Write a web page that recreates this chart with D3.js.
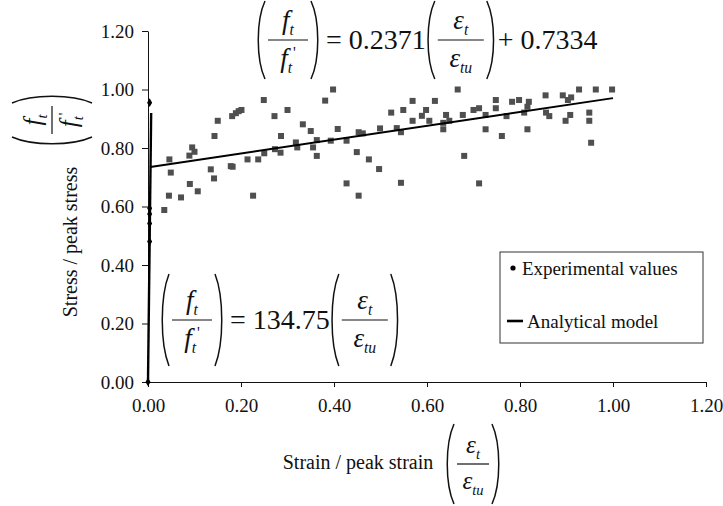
<!DOCTYPE html>
<html>
<head>
<meta charset="utf-8">
<script src="https://cdn.jsdelivr.net/npm/d3@7"></script>
<style>
body { margin:0; background:#fff; }
</style>
</head>
<body>
<div id="chart"></div>
<script>
// chart data
var xTicks = [0, 0.2, 0.4, 0.6, 0.8, 1.0, 1.2];
var yTicks = [0, 0.2, 0.4, 0.6, 0.8, 1.0, 1.2];

// experimental values, pre-peak (black diamonds on the axis)
var preStrain = [0, 0.0035, 0.0035, 0.0035, 0.0035, 0.0035];
var preStress = [0, 0.480, 0.542, 0.574, 0.594, 0.955];

// experimental values, post-peak (grey squares)
var postStrain = [0.035, 0.046, 0.049, 0.045, 0.071, 0.090, 0.089, 0.095, 0.100, 0.107,
	0.135, 0.142, 0.143, 0.150, 0.178, 0.182, 0.181, 0.189, 0.195, 0.201,
	0.214, 0.226, 0.237, 0.249, 0.250, 0.272, 0.273, 0.285, 0.286, 0.300,
	0.318, 0.321, 0.333, 0.350, 0.355, 0.363, 0.363, 0.381, 0.393, 0.398,
	0.408, 0.427, 0.427, 0.449, 0.453, 0.453, 0.462, 0.475, 0.497, 0.499,
	0.523, 0.535, 0.544, 0.544, 0.549, 0.569, 0.569, 0.589, 0.598, 0.605,
	0.617, 0.635, 0.635, 0.641, 0.648, 0.666, 0.677, 0.680, 0.700, 0.712,
	0.712, 0.726, 0.726, 0.748, 0.748, 0.761, 0.771, 0.783, 0.798, 0.809,
	0.816, 0.819, 0.816, 0.855, 0.856, 0.863, 0.892, 0.898, 0.903, 0.908,
	0.910, 0.927, 0.949, 0.949, 0.953, 0.963, 0.998];
var postStress = [0.588, 0.761, 0.716, 0.637, 0.631, 0.677, 0.774, 0.802, 0.787, 0.652,
	0.727, 0.696, 0.841, 0.893, 0.738, 0.736, 0.909, 0.919, 0.926, 0.930,
	0.761, 0.637, 0.761, 0.964, 0.782, 0.909, 0.796, 0.784, 0.841, 0.930,
	0.819, 0.802, 0.881, 0.858, 0.802, 0.827, 0.773, 0.962, 0.825, 1.000,
	0.865, 0.679, 0.825, 0.786, 0.637, 0.854, 0.850, 0.761, 0.728, 0.867,
	0.921, 0.868, 0.681, 0.854, 0.930, 0.961, 0.893, 0.910, 0.930, 0.893,
	0.961, 0.864, 0.886, 0.913, 0.893, 1.000, 0.913, 0.773, 0.930, 0.936,
	0.679, 0.913, 0.864, 0.964, 0.936, 0.841, 0.909, 0.958, 0.964, 0.921,
	0.864, 0.958, 0.941, 0.980, 0.921, 0.909, 0.980, 0.893, 0.964, 0.913,
	0.973, 1.000, 0.921, 0.893, 0.818, 1.000, 1.000];

// analytical model
var modelPreStrain = [0, 0.0068];
var modelPreStress = [0, 0.92];
var modelPostStrain = [0.005, 1.0];
var modelPostStress = [0.735, 0.9705];

var W = 723, H = 506;
var plot = {left:148, right:706, top:31, bottom:382};

// pick the first serif face that is really installed (width test against monospace)
function pickSerif(){
	var c = document.createElement("canvas").getContext("2d");
	var probe = "Experimental values 0.2371";
	c.font = "40px monospace";
	var base = c.measureText(probe).width;
	var list = ["Liberation Serif", "Times New Roman", "Tinos", "Nimbus Roman", "DejaVu Serif", "Noto Serif", "FreeSerif", "Times"];
	for (var i = 0; i < list.length; i++) {
		c.font = "40px '" + list[i] + "', monospace";
		if (Math.abs(c.measureText(probe).width - base) > 0.5) return "'" + list[i] + "', serif";
	}
	return "serif";
}
var serif = pickSerif();

var svg = d3.select("#chart").append("svg")
	.attr("width", W)
	.attr("height", H)
	.style("font-family", serif);

var x = d3.scaleLinear().domain([0, 1.2]).range([plot.left, plot.right]);
var y = d3.scaleLinear().domain([0, 1.2]).range([plot.bottom, plot.top]);

// axes
svg.append("g")
	.attr("transform", "translate(0," + plot.bottom + ")")
	.call(d3.axisBottom(x).tickValues(xTicks).tickFormat(d3.format(".2f")).tickSize(5).tickSizeOuter(0).tickPadding(12));
svg.append("g")
	.attr("transform", "translate(" + plot.left + ",0)")
	.call(d3.axisLeft(y).tickValues(yTicks).tickFormat(d3.format(".2f")).tickSize(6).tickSizeOuter(0).tickPadding(8));
svg.selectAll("g").attr("font-family", null).attr("font-size", null);
svg.selectAll(".tick text")
	.style("font-family", serif)
	.style("font-size", "19px")
	.attr("fill", "#111");
svg.selectAll(".domain, .tick line").attr("stroke", "#111");

// grey squares
var sq = 6;
svg.append("g").selectAll("rect")
	.data(d3.range(postStrain.length))
	.enter().append("rect")
	.attr("x", function(i){ return x(postStrain[i]) - sq/2; })
	.attr("y", function(i){ return y(postStress[i]) - sq/2; })
	.attr("width", sq)
	.attr("height", sq)
	.attr("fill", "#4f4f4f");

// model lines
var line = d3.line().x(function(d){ return x(d[0]); }).y(function(d){ return y(d[1]); });
svg.append("path")
	.attr("d", line(d3.zip(modelPreStrain, modelPreStress)))
	.attr("stroke", "#000").attr("stroke-width", 2.4).attr("fill", "none");
svg.append("path")
	.attr("d", line(d3.zip(modelPostStrain, modelPostStress)))
	.attr("stroke", "#000").attr("stroke-width", 2).attr("fill", "none");

// black diamonds
svg.append("g").selectAll("path")
	.data(d3.range(preStrain.length))
	.enter().append("path")
	.attr("d", d3.symbol().type(d3.symbolDiamond).size(22))
	.attr("transform", function(i){ return "translate(" + x(preStrain[i]) + "," + y(preStress[i]) + ")"; })
	.attr("fill", "#000");

// --- math helpers ---
function paren(g, px, cy, h, left){
	var d = left ? 1 : -1;
	var p = d3.path();
	p.moveTo(px + d*7, cy - h/2);
	p.bezierCurveTo(px - d*2, cy - h/4, px - d*2, cy + h/4, px + d*7, cy + h/2);
	g.append("path").attr("d", p.toString())
		.attr("stroke", "#111").attr("stroke-width", 1.5).attr("fill", "none");
}

// sym: "f" or "ε"; sub: subscript; prime: add superscript prime
function term(g, cx, base, sym, sub, prime, fs){
	var t = g.append("text").attr("x", cx).attr("y", base)
		.attr("text-anchor", "middle")
		.style("font-family", serif)
		.style("font-style", "italic").style("font-size", fs + "px").attr("fill", "#111");
	t.append("tspan").text(sym);
	t.append("tspan").attr("dy", fs*0.22).style("font-size", (fs*0.58) + "px").text(sub);
	if (prime) t.append("tspan").attr("dx", 1).attr("dy", -fs*0.55)
		.style("font-size", (fs*0.58) + "px").style("font-style", "normal").text("'");
}

// parenthesised fraction, left paren at px, centred on cy; returns right edge
function frac(g, px, cy, h, w, num, den, fs){
	paren(g, px, cy, h, true);
	var bx = px + 10;
	g.append("line").attr("x1", bx).attr("x2", bx + w).attr("y1", cy).attr("y2", cy)
		.attr("stroke", "#111").attr("stroke-width", 1.2);
	term(g, bx + w/2, cy - 11, num[0], num[1], num[2], fs);
	term(g, bx + w/2, cy + fs*1.0, den[0], den[1], den[2], fs);
	paren(g, bx + w + 10, cy, h, false);
	return bx + w + 10;
}

function plain(g, tx, base, str, fs){
	var t = g.append("text").attr("x", tx).attr("y", base)
		.style("font-family", serif)
		.style("font-size", fs + "px").attr("fill", "#111").text(str);
	return tx + t.node().getComputedTextLength();
}

var fT = ["f", "t", false], fTp = ["f", "t", true];
var eT = ["\u03b5", "t", false], eTU = ["\u03b5", "tu", false];

// top equation
var eq1 = svg.append("g");
var e1 = frac(eq1, 258, 40, 78, 40, fT, fTp, 27);
var e2 = plain(eq1, e1 + 8, 49, "= 0.2371", 28);
var e3 = frac(eq1, e2 + 2, 40, 78, 46, eT, eTU, 27);
plain(eq1, e3 + 4, 49, "+ 0.7334", 28);

// lower equation
var eq2 = svg.append("g");
var e4 = frac(eq2, 162, 320, 92, 40, fT, fTp, 27);
var e5 = plain(eq2, e4 + 8, 329, "= 134.75", 28);
frac(eq2, e5 + 2, 320, 92, 46, eT, eTU, 27);

// axis titles
svg.append("text").attr("x", 358).attr("y", 469).attr("text-anchor", "middle")
	.style("font-family", serif)
	.style("font-size", "20px").attr("fill", "#111").text("Strain / peak strain");
frac(svg.append("g"), 447, 464, 80, 32, eT, eTU, 25);

svg.append("text").attr("transform", "translate(77,242) rotate(-90)").attr("text-anchor", "middle")
	.style("font-family", serif)
	.style("font-size", "20px").attr("fill", "#111").text("Stress / peak stress");
var yf = svg.append("g").attr("transform", "translate(52,115) rotate(-90)");
frac(yf, -29, 0, 80, 28, fT, fTp, 25);

// legend
var lg = svg.append("g");
lg.append("rect").attr("x", 500).attr("y", 252).attr("width", 203).attr("height", 91)
	.attr("fill", "#fff").attr("stroke", "#333").attr("stroke-width", 1);
lg.append("circle").attr("cx", 513).attr("cy", 268).attr("r", 2.6).attr("fill", "#000");
plain(lg, 522, 275, "Experimental values", 19);
lg.append("line").attr("x1", 507).attr("x2", 523).attr("y1", 321).attr("y2", 321)
	.attr("stroke", "#000").attr("stroke-width", 2.6);
plain(lg, 527, 328, "Analytical model", 19);
</script>
</body>
</html>
